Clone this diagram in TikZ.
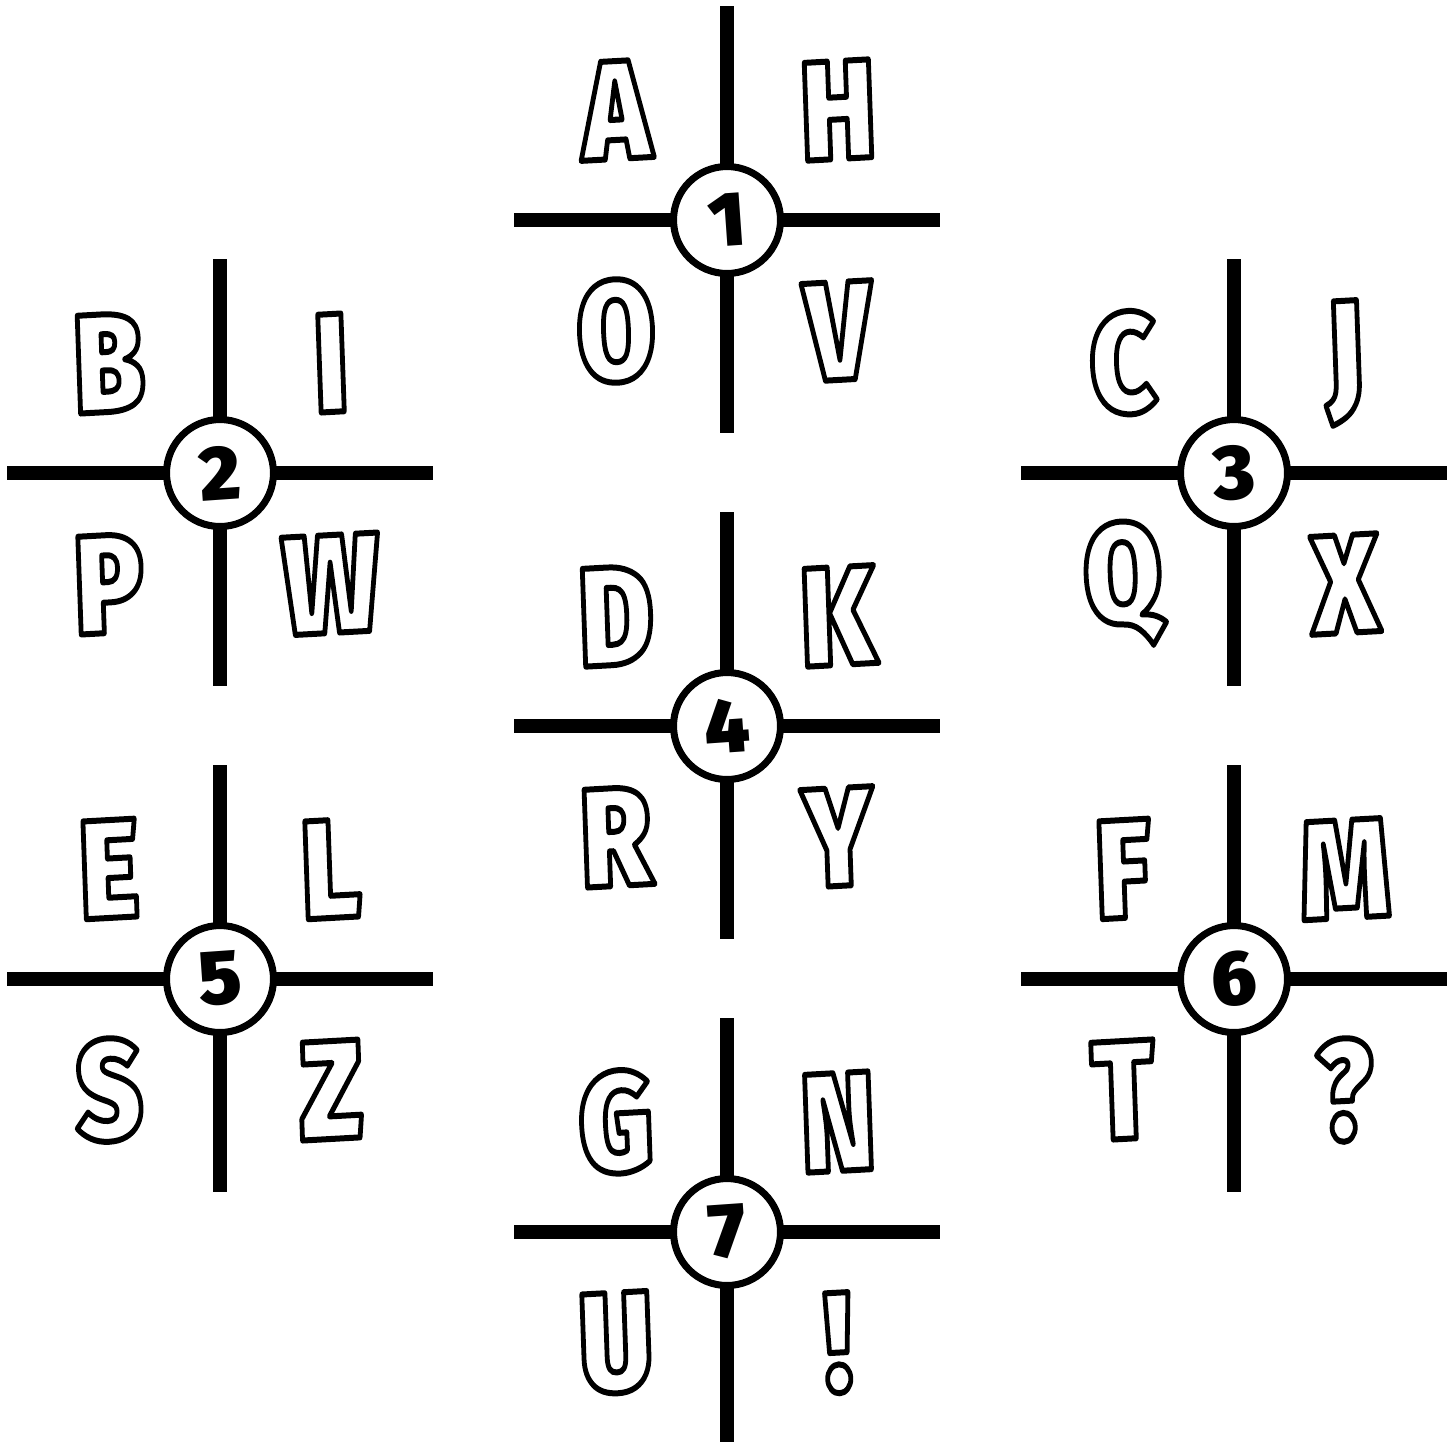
\documentclass[tikz,border=0pt]{standalone}
\usepackage{fontspec}
\IfFontExistsTF{Fira Sans Heavy}{\newfontfamily\lf{Fira Sans Heavy}}{%
  \IfFontExistsTF{Fira Sans Black}{\newfontfamily\lf{Fira Sans Black}}{%
    \IfFontExistsTF{Fira Sans ExtraBold}{\newfontfamily\lf{Fira Sans ExtraBold}}{%
      \newfontfamily\lf{Fira Sans}[UprightFont=*,UprightFeatures={FakeBold=0}]\let\oldlf\lf\def\lf{\oldlf\bfseries}}}}
\newcommand\outl[1]{\special{pdf:literal direct 2 Tr 3.4 w 1 j 0 G 1 g}#1\special{pdf:literal direct 0 Tr 0 g 0 G}}
\tikzset{
  arm/.style={line width=8.3pt},
  hub/.style={circle, draw, line width=4pt, fill=white, minimum size=2.14cm, inner sep=0pt},
  hubtext/.style={inner sep=0pt, rotate=4, font=\lf\fontsize{44}{44}\selectfont},
  letter/.style={inner sep=0pt, xscale=0.8, rotate=2.5, font=\lf\fontsize{80}{80}\selectfont}
}
\begin{document}
\begin{tikzpicture}[x=0.02cm,y=-0.02cm]
\useasboundingbox[fill=white] (0,0) rectangle (1456,1441);
\foreach \n/\cx/\cy/\a/\b/\c/\d in {1/727/220/A/H/O/V, 2/220/473/B/I/P/W, 3/1234/473/C/J/Q/X, 4/727/726/D/K/R/Y, 5/220/979/E/L/S/Z, 6/1234/979/F/M/T/?, 7/727/1232/G/N/U/!}{
  \coordinate (n\n) at (\cx,\cy-214);
  \coordinate (s\n) at (\cx,\cy+213);
  \coordinate (w\n) at (\cx-213,\cy);
  \coordinate (e\n) at (\cx+213,\cy);
  \draw[arm] (n\n) -- (s\n);
  \draw[arm] (w\n) -- (e\n);
  \node[hub] (c\n) at (\cx,\cy) {};
  \node[hubtext] (t\n) at (c\n) {\n};
  \node[letter] (la\n) at (\cx-111,\cy-110) {\outl{\a}};
  \node[letter] (lb\n) at (\cx+111,\cy-110) {\outl{\b}};
  \node[letter] (lc\n) at (\cx-111,\cy+111) {\outl{\c}};
  \node[letter] (ld\n) at (\cx+111,\cy+111) {\outl{\d}};
}
\end{tikzpicture}
\end{document}
